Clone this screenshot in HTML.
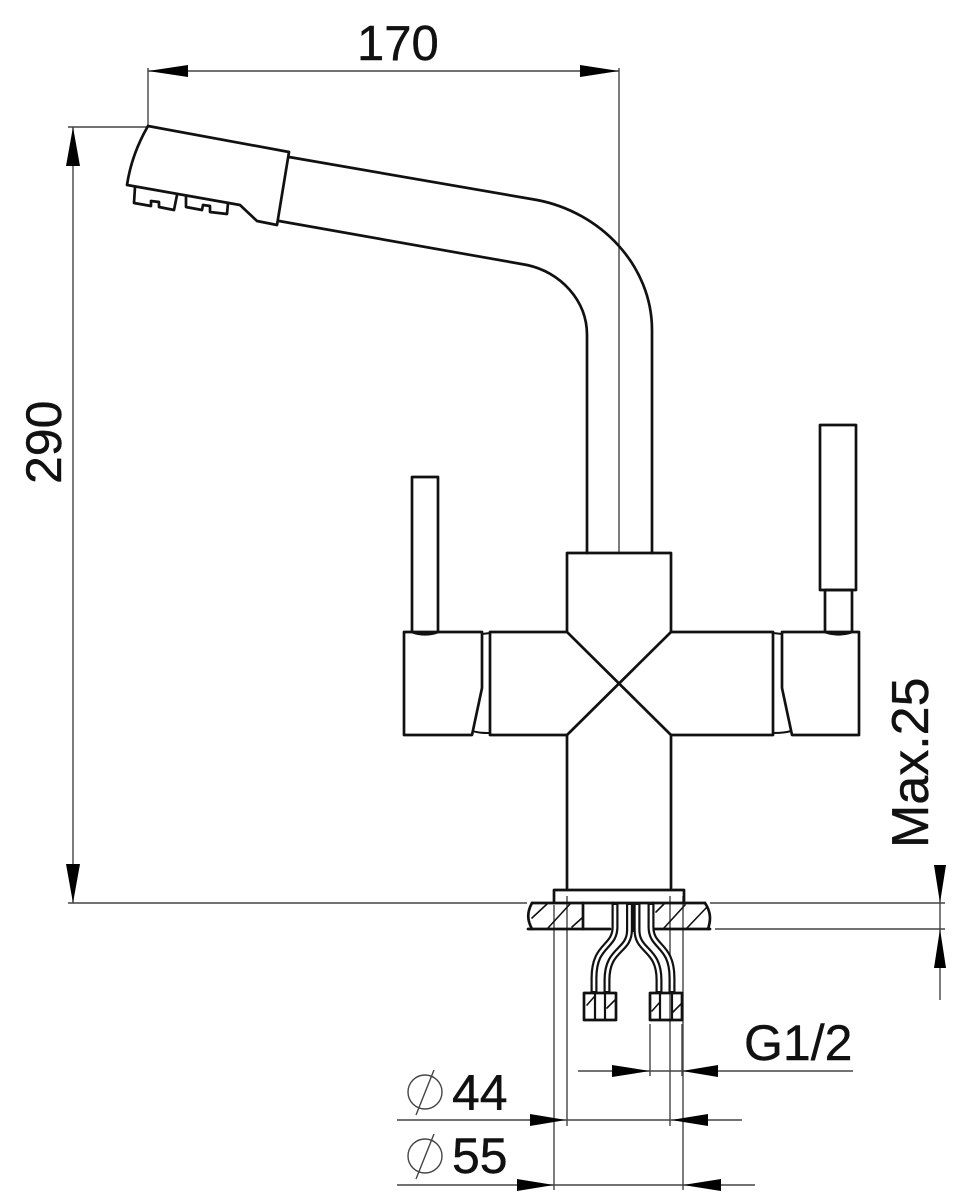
<!DOCTYPE html>
<html><head><meta charset="utf-8"><style>
html,body{margin:0;padding:0;background:#fff}
svg{display:block}
text{font-family:"Liberation Sans",sans-serif;fill:#111;stroke:#111;stroke-width:.4}
.m{fill:none;stroke:#111;stroke-width:2.7;stroke-linejoin:round;stroke-linecap:round}
.t{fill:none;stroke:#444;stroke-width:1.4}
.a{fill:#000;stroke:none}
</style></head><body>
<svg width="957" height="1200" viewBox="0 0 957 1200" xmlns="http://www.w3.org/2000/svg">
<!-- thin dimension lines -->
<g class="t">
<path d="M148 68V125M619 68V553M148 71H619"/>
<path d="M68 127H148M73 127V903M68 903H527M710 903H945"/>
<path d="M715 929H945M940 865V1000"/>
<path d="M554 905V1190M567 896V1126M670 896V1126M683 896V1190M650 1024V1076M682 1024V1076"/>
<path d="M578 1071H853M397 1120H742M397 1185H755"/>
<circle cx="425" cy="1092" r="17"/><path d="M434 1070L416 1115"/>
<circle cx="425" cy="1156" r="17"/><path d="M434 1134L416 1179"/>
</g>
<!-- arrowheads -->
<g class="a">
<path d="M148 71L188 65V77Z"/><path d="M619 71L580 65V77Z"/>
<path d="M73 127L66 166H80Z"/><path d="M73 903L66 864H80Z"/>
<path d="M940 903L934 865H946Z"/><path d="M940 929L934 968H946Z"/>
<path d="M650 1071L612 1065V1077Z"/><path d="M682 1071L718 1065V1077Z"/>
<path d="M566 1120L530 1114V1126Z"/><path d="M671 1120L708 1114V1126Z"/>
<path d="M554 1185L517 1179V1191Z"/><path d="M683 1185L721 1179V1191Z"/>
</g>
<!-- spout -->
<g class="m">
<path d="M148 126L289 152L277 225L257 221L240 205L127 185C130 165 137 145 148 126Z"/>
<path d="M135 187L134 203L151 206V201L159 202L159 207L174 210L177 195"/>
<path d="M186 197L186 207L202 210L203 205L210 206L210 212L227 214L228 203"/>
<path d="M289 157L537 200C600 212 652 265 652 330V553"/>
<path d="M279 221L527 265C560 272 587 300 587 335V553"/>
<!-- body -->
<path d="M567 632V553H671V632"/>
<path d="M567 735V888M671 735V888"/>
<path d="M490 632H567L671 735H773V632H671L567 735H490Z"/>
<path d="M404 632H482V688L472 735H404Z"/>
<path d="M482 634L490 633M473 731C478 733 484 733 490 733" stroke-width="2"/>
<path d="M782 632H859V735H792L782 688Z"/>
<path d="M773 633L782 634M773 733C779 733 785 733 791 731" stroke-width="2"/>
<path d="M412 632V477H438V632M412 632C420 635 430 635 438 632"/>
<path d="M825 632V590H852V632M825 632C834 635 843 635 852 632"/>
<rect x="820" y="425" width="36" height="165"/>
<!-- mount -->
<path d="M554 903V890H684V903"/>
<path d="M532 903H705M528 929H610M654 929H710"/>
<path d="M532 903C527 912 527 920 532 929M705 903C711 912 711 920 708 929"/>
<path d="M583 903V929M613 903V929M653 903V929"/>
<g stroke-width="1.6">
<path d="M532 918L547 904M548 928L570 904M572 927L582 918M656 912L664 904M664 928L685 905M687 928L707 907"/>
</g>
<rect x="584" y="993" width="32" height="27"/>
<rect x="650" y="993" width="32" height="27"/>
<path d="M595 993V1020M605 993V1020M660 993V1020M672 993V1020" stroke-width="2.2"/>
<path stroke-width="1.6" d="M587 1005L594 997M607 1008L615 1000M652 1011L660 1002M672 1013L681 1004"/>
</g>
<!-- hoses -->
<g fill="none" stroke="#111" stroke-width="7">
<path d="M615 903V927C615 948 594 944 594 978V993"/>
<path d="M629.5 903V930C629.5 952 607 948 607 980V993"/>
<path d="M637 903V930C637 952 659 948 659 980V993"/>
<path d="M651 903V927C651 948 672 944 672 978V993"/>
</g>
<g fill="none" stroke="#fff" stroke-width="2.6">
<path d="M615 905V927C615 948 594 944 594 978V991"/>
<path d="M629.5 905V930C629.5 952 607 948 607 980V991"/>
<path d="M637 905V930C637 952 659 948 659 980V991"/>
<path d="M651 905V927C651 948 672 944 672 978V991"/>
</g>
<path d="M633 903V932" stroke="#111" stroke-width="3" fill="none"/>
<!-- labels -->
<text x="357" y="60" font-size="49">170</text>
<text transform="translate(61,484) rotate(-90)" font-size="50">290</text>
<text transform="translate(928,848) rotate(-90)" font-size="52">Max.25</text>
<text x="744" y="1060" font-size="50">G1/2</text>
<text x="452" y="1110" font-size="50">44</text>
<text x="452" y="1173" font-size="50">55</text>
</svg>
</body></html>
